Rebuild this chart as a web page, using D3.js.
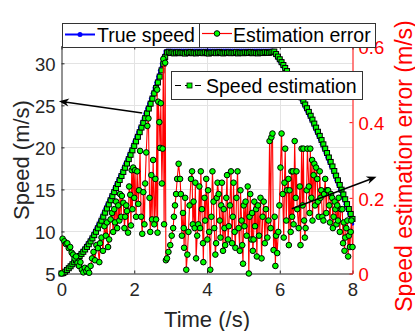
<!DOCTYPE html>
<html>
<head>
<meta charset="utf-8">
<script src="https://cdn.jsdelivr.net/npm/d3@7"></script>
<style>
  body { margin: 0; background: #fff; }
  svg { display: block; font-family: "Liberation Sans", Arial, sans-serif; }
</style>
</head>
<body>
<svg id="chart" width="415" height="331"></svg>
<script>
// sampling of the speed curves (s)
var sampleStep = 0.05;

var trueSpeed = [
  5.00,5.20,5.40,5.62,5.85,6.10,6.35,6.60,6.85,7.10,
  7.35,7.60,7.88,8.18,8.50,8.84,9.20,9.58,9.98,10.40,
  10.84,11.30,11.78,12.26,12.75,13.24,13.73,14.22,14.70,15.18,
  15.66,16.14,16.62,17.10,17.60,18.10,18.62,19.14,19.67,20.20,
  20.74,21.28,21.83,22.38,22.94,23.50,24.07,24.64,25.22,25.82,
  26.44,27.08,27.74,28.44,29.18,29.96,30.80,31.45,31.55,
  31.55,31.55,31.55,31.55,31.55,31.55,31.55,31.55,31.55,31.55,
  31.55,31.55,31.55,31.55,31.55,31.55,31.55,31.55,31.55,31.55,
  31.55,31.55,31.55,31.55,31.55,31.55,31.55,31.55,31.55,31.55,
  31.55,31.55,31.55,31.55,31.55,31.55,31.55,31.55,31.55,31.55,
  31.55,31.55,31.55,31.55,31.55,31.55,31.55,31.55,31.55,31.55,
  31.55,31.55,31.55,31.55,31.55,31.55,31.55,31.55,
  31.20,30.85,30.50,30.15,29.80,29.45,29.08,28.70,28.32,27.94,
  27.55,27.15,26.75,26.35,25.94,25.52,25.10,24.66,24.22,23.76,
  23.30,22.83,22.35,21.86,21.37,20.87,20.36,19.85,19.33,18.80,
  18.27,17.73,17.19,16.64,16.09,15.53,14.97,14.40,13.83,13.25,
  12.67,12.08,11.49,10.90
];

var estSpeed = [
  5.00,5.05,5.22,5.42,5.63,5.86,6.10,6.34,6.58,6.83,
  7.08,7.33,7.58,7.86,8.16,8.48,8.82,9.18,9.56,9.96,
  10.38,10.82,11.28,11.76,12.24,12.73,13.22,13.71,14.20,14.68,
  15.16,15.64,16.12,16.60,17.08,17.58,18.08,18.60,19.12,19.65,
  20.18,20.72,21.26,21.81,22.36,22.92,23.48,24.05,24.62,25.20,
  25.80,26.42,27.06,27.72,28.42,29.16,29.94,30.76,31.28,31.36,
  31.22,31.30,31.18,31.26,31.32,31.20,31.28,31.24,31.16,31.30,
  31.22,31.34,31.20,31.26,31.18,31.30,31.24,31.28,31.20,31.32,
  31.22,31.16,31.28,31.24,31.30,31.20,31.26,31.34,31.22,31.18,
  31.28,31.24,31.30,31.20,31.26,31.22,31.32,31.18,31.28,31.24,
  31.20,31.30,31.26,31.22,31.34,31.20,31.28,31.24,31.18,31.30,
  31.26,31.22,31.32,31.28,31.24,31.30,31.36,
  31.40,31.10,30.80,30.48,30.14,29.80,29.45,29.08,28.70,28.32,
  27.94,27.55,27.15,26.75,26.35,25.94,25.52,25.10,24.66,24.22,
  23.76,23.30,22.83,22.35,21.86,21.37,20.87,20.36,19.85,19.33,
  18.80,18.27,17.73,17.19,16.64,16.09,15.53,14.97,14.40,13.83,
  13.25,12.67,12.08,11.49
];

// [time, error]
var errorPoints = [
  [0.00,0.000],[0.03,0.092],[0.08,0.085],[0.12,0.078],[0.16,0.080],[0.20,0.067],[0.24,0.070],
  [0.28,0.055],[0.32,0.050],[0.36,0.040],[0.40,0.045],[0.44,0.028],[0.48,0.020],[0.52,0.030],
  [0.56,0.010],[0.60,0.003],[0.64,0.015],[0.68,0.006],[0.72,0.012],[0.76,0.002],[0.80,0.020],
  [0.84,0.040],[0.88,0.057],[0.92,0.035],[0.96,0.075],[1.00,0.067],[1.04,0.030],[1.06,0.080],
  [1.10,0.095],[1.14,0.060],[1.18,0.125],[1.22,0.100],[1.25,0.135],[1.28,0.070],[1.31,0.090],
  [1.35,0.143],[1.39,0.160],[1.42,0.110],[1.45,0.170],[1.47,0.135],[1.50,0.190],[1.53,0.120],
  [1.56,0.180],[1.59,0.140],[1.61,0.210],[1.64,0.150],[1.66,0.205],[1.70,0.187],[1.73,0.120],
  [1.75,0.150],[1.78,0.180],[1.80,0.165],[1.83,0.108],[1.86,0.230],[1.89,0.208],[1.91,0.127],
  [1.93,0.273],[1.95,0.170],[1.97,0.280],[2.00,0.200],[2.02,0.273],[2.05,0.150],[2.08,0.270],
  [2.11,0.184],[2.13,0.220],[2.16,0.324],[2.19,0.150],[2.22,0.105],[2.25,0.215],[2.28,0.130],
  [2.30,0.238],[2.33,0.320],[2.36,0.390],[2.39,0.410],[2.42,0.200],[2.44,0.110],[2.47,0.260],
  [2.49,0.143],[2.52,0.300],[2.55,0.130],[2.58,0.250],[2.60,0.143],[2.63,0.486],[2.64,0.108],
  [2.66,0.454],[2.69,0.400],[2.71,0.332],[2.73,0.450],[2.76,0.238],[2.78,0.330],[2.80,0.567],
  [2.82,0.130],[2.85,0.557],[2.87,0.035],[2.90,0.040],[2.94,0.057],[2.99,0.075],[3.03,0.100],
  [3.07,0.120],[3.09,0.150],[3.12,0.180],[3.15,0.210],[3.18,0.250],[3.22,0.290],[3.26,0.250],
  [3.28,0.210],[3.31,0.100],[3.34,0.160],[3.36,0.120],[3.37,0.068],[3.40,0.200],[3.43,0.010],
  [3.46,0.050],[3.49,0.110],[3.52,0.180],[3.56,0.250],[3.59,0.270],[3.61,0.130],[3.63,0.190],
  [3.66,0.120],[3.68,0.240],[3.70,0.040],[3.73,0.100],[3.76,0.130],[3.79,0.230],[3.81,0.120],
  [3.83,0.270],[3.86,0.170],[3.89,0.080],[3.90,0.030],[3.93,0.200],[3.95,0.140],[3.98,0.250],
  [4.01,0.090],[4.03,0.220],[4.06,0.110],[4.09,0.010],[4.12,0.150],[4.15,0.270],[4.18,0.190],
  [4.20,0.120],[4.23,0.050],[4.25,0.080],[4.27,0.200],[4.29,0.240],[4.32,0.210],[4.35,0.140],
  [4.37,0.095],[4.39,0.180],[4.41,0.240],[4.44,0.060],[4.46,0.170],[4.48,0.120],[4.50,0.075],
  [4.53,0.200],[4.55,0.260],[4.58,0.090],[4.60,0.125],[4.63,0.180],[4.66,0.270],[4.69,0.080],
  [4.71,0.150],[4.73,0.240],[4.76,0.110],[4.78,0.068],[4.81,0.200],[4.84,0.270],[4.87,0.120],
  [4.90,0.060],[4.92,0.220],[4.95,0.140],[4.97,0.075],[4.99,0.026],[5.01,0.180],[5.03,0.125],
  [5.06,0.190],[5.09,0.100],[5.12,0.230],[5.15,0.000],[5.17,0.150],[5.19,0.210],[5.22,0.090],
  [5.24,0.160],[5.26,0.060],[5.28,0.090],[5.30,0.190],[5.32,0.125],[5.35,0.170],[5.37,0.045],
  [5.40,0.180],[5.43,0.100],[5.47,0.200],[5.50,0.040],[5.53,0.150],[5.56,0.190],[5.59,0.080],
  [5.62,0.170],[5.66,0.095],[5.69,0.140],[5.72,0.350],[5.75,0.120],[5.77,0.360],[5.80,0.370],
  [5.83,0.062],[5.86,0.150],[5.88,0.020],[5.90,0.100],[5.93,0.054],[5.96,0.110],[5.99,0.180],
  [6.02,0.280],[6.05,0.370],[6.08,0.210],[6.11,0.095],[6.13,0.240],[6.15,0.330],[6.18,0.140],
  [6.20,0.220],[6.24,0.250],[6.25,0.075],[6.27,0.220],[6.30,0.110],[6.32,0.270],[6.34,0.150],
  [6.36,0.270],[6.38,0.130],[6.41,0.350],[6.44,0.200],[6.46,0.270],[6.48,0.170],[6.52,0.120],
  [6.55,0.230],[6.57,0.075],[6.60,0.330],[6.63,0.180],[6.65,0.330],[6.67,0.140],[6.69,0.095],
  [6.71,0.120],[6.74,0.220],[6.76,0.330],[6.80,0.230],[6.82,0.160],[6.84,0.330],[6.87,0.200],
  [6.89,0.300],[6.90,0.140],[6.93,0.260],[6.95,0.290],[6.97,0.180],[7.00,0.280],[7.03,0.250],
  [7.05,0.190],[7.07,0.150],[7.10,0.270],[7.12,0.200],[7.14,0.220],[7.17,0.150],[7.20,0.140],
  [7.22,0.210],[7.25,0.250],[7.28,0.160],[7.30,0.220],[7.33,0.220],[7.36,0.180],[7.38,0.135],
  [7.41,0.210],[7.44,0.200],[7.46,0.120],[7.48,0.150],[7.51,0.190],[7.53,0.170],[7.56,0.130],
  [7.58,0.180],[7.60,0.140],[7.62,0.200],[7.65,0.110],[7.68,0.170],[7.72,0.170],[7.74,0.080],
  [7.76,0.135],[7.78,0.060],[7.80,0.095],[7.83,0.120],[7.86,0.140],[7.88,0.045],[7.90,0.100],
  [7.93,0.070],[7.95,0.110],[7.97,0.140],[8.00,0.070]
];

var xTicks = [0, 2, 4, 6, 8];
var leftTicks = [5, 10, 15, 20, 25, 30];
var rightTicks = [0, 0.2, 0.4, 0.6];

// annotation arrows, in data units (time, speed)
var arrows = [
  { from: [2.22, 24.1], to: [-0.07, 25.5] },
  { from: [6.33, 12.7], to: [8.66, 16.5] }
];

var colorText = "#262626";
var colorGrid = "#e3e3e3";
var colorRed = "#ff0000";
var colorGreen = "#00ff00";

var L = 61.5, R = 352.5, T = 46.5, B = 273.5;

var svg = d3.select("#chart");

var x = d3.scaleLinear().domain([0, 8]).range([L, R]);
var yL = d3.scaleLinear().domain([5, 32]).range([B, T]);
var yR = d3.scaleLinear().domain([0, 0.6]).range([B, T]);

var n = Math.min(trueSpeed.length, estSpeed.length);
var speedRows = d3.range(n).map(function(i){
  return { t: i * sampleStep, v: trueSpeed[i], e: estSpeed[i] };
});

// grid (left axis only)
svg.append("g").selectAll("line").data(xTicks.slice(1, -1)).enter().append("line")
  .attr("x1", function(d){ return Math.round(x(d)) + 0.5; })
  .attr("x2", function(d){ return Math.round(x(d)) + 0.5; })
  .attr("y1", T).attr("y2", B)
  .attr("stroke", colorGrid).attr("stroke-width", 1);
svg.append("g").selectAll("line").data(leftTicks.slice(1)).enter().append("line")
  .attr("x1", L).attr("x2", R)
  .attr("y1", function(d){ return Math.round(yL(d)) + 0.5; })
  .attr("y2", function(d){ return Math.round(yL(d)) + 0.5; })
  .attr("stroke", colorGrid).attr("stroke-width", 1);

// axes
var axB = svg.append("g").attr("transform", "translate(0," + B + ")")
  .call(d3.axisBottom(x).tickValues(xTicks).tickSizeInner(-3).tickSizeOuter(0).tickPadding(9));
var axTop = svg.append("g").attr("transform", "translate(0," + T + ")")
  .call(d3.axisTop(x).tickValues(xTicks).tickSizeInner(-3).tickSizeOuter(0).tickFormat(""));
var axL = svg.append("g").attr("transform", "translate(" + L + ",0)")
  .call(d3.axisLeft(yL).tickValues(leftTicks).tickSizeInner(-3).tickSizeOuter(0).tickPadding(6));
var axR = svg.append("g").attr("transform", "translate(" + R + ",0)")
  .call(d3.axisRight(yR).tickValues(rightTicks).tickFormat(function(d){ return d === 0 ? "0" : d3.format(".1f")(d); })
    .tickSizeInner(-3).tickSizeOuter(0).tickPadding(6));

[axB, axTop, axL].forEach(function(a){
  a.select(".domain").attr("stroke", colorText);
  a.selectAll(".tick line").attr("stroke", colorText);
  a.selectAll("text").attr("fill", colorText).style("font-size", "18.5px")
    .style("font-family", "Liberation Sans, Arial, sans-serif");
});
axR.select(".domain").attr("stroke", colorRed);
axR.selectAll(".tick line").attr("stroke", colorRed);
axR.selectAll("text").attr("fill", colorRed).style("font-size", "18.5px")
  .style("font-family", "Liberation Sans, Arial, sans-serif");
axL.selectAll("text").attr("dy", "0.40em");
axR.selectAll("text").attr("dy", "0.40em");

// speed curves
var lineTrue = d3.line().x(function(d){ return x(d.t); }).y(function(d){ return yL(d.v); });
var lineEst = d3.line().x(function(d){ return x(d.t); }).y(function(d){ return yL(d.e); });

svg.append("path").datum(speedRows).attr("d", lineTrue)
  .attr("fill", "none").attr("stroke", "#0000ff").attr("stroke-width", 2);
svg.append("g").selectAll("circle").data(speedRows).enter().append("circle")
  .attr("cx", function(d){ return x(d.t); }).attr("cy", function(d){ return yL(d.v); })
  .attr("r", 1.8).attr("fill", "#0000ff");

svg.append("path").datum(speedRows).attr("d", lineEst)
  .attr("fill", "none").attr("stroke", "#000").attr("stroke-width", 1).attr("stroke-dasharray", "6,4");
svg.append("g").selectAll("rect").data(speedRows).enter().append("rect")
  .attr("x", function(d){ return x(d.t) - 2.5; }).attr("y", function(d){ return yL(d.e) - 2.5; })
  .attr("width", 5).attr("height", 5)
  .attr("fill", colorGreen).attr("stroke", "#000").attr("stroke-width", 1);

// estimation error (right axis)
var lineErr = d3.line().x(function(d){ return x(d[0]); }).y(function(d){ return yR(d[1]); });
svg.append("path").datum(errorPoints).attr("d", lineErr)
  .attr("fill", "none").attr("stroke", colorRed).attr("stroke-width", 1.1);
svg.append("g").selectAll("circle").data(errorPoints).enter().append("circle")
  .attr("cx", function(d){ return x(d[0]); }).attr("cy", function(d){ return yR(d[1]); })
  .attr("r", 2.8).attr("fill", colorGreen).attr("stroke", "#000").attr("stroke-width", 1);

// box top edge
svg.append("line").attr("x1", L).attr("x2", R).attr("y1", T).attr("y2", T)
  .attr("stroke", colorText).attr("stroke-width", 1);

// axis labels
svg.append("text").attr("x", (L + R) / 2).attr("y", 327).attr("text-anchor", "middle")
  .attr("fill", colorText).style("font-size", "22px").text("Time (/s)");
svg.append("text").attr("transform", "translate(29," + ((T + B) / 2) + ") rotate(-90)")
  .attr("text-anchor", "middle").attr("fill", colorText).style("font-size", "22px").text("Speed (m/s)");
svg.append("text").attr("transform", "translate(412," + ((T + B) / 2 + 6) + ") rotate(-90)")
  .attr("text-anchor", "middle").attr("fill", colorRed).style("font-size", "23px").text("Speed estimation error (m/s)");

// arrows
arrows.forEach(function(a){
  var x1 = x(a.from[0]), y1 = yL(a.from[1]), x2 = x(a.to[0]), y2 = yL(a.to[1]);
  var dx = x2 - x1, dy = y2 - y1, len = Math.sqrt(dx*dx + dy*dy);
  var ux = dx / len, uy = dy / len, nx = -uy, ny = ux;
  var hl = 10, hw = 4;
  svg.append("line").attr("x1", x1).attr("y1", y1)
    .attr("x2", x2 - ux * hl * 0.6).attr("y2", y2 - uy * hl * 0.6)
    .attr("stroke", "#000").attr("stroke-width", 1.6);
  var pts = [
    [x2, y2],
    [x2 - ux*hl + nx*hw, y2 - uy*hl + ny*hw],
    [x2 - ux*hl*0.7, y2 - uy*hl*0.7],
    [x2 - ux*hl - nx*hw, y2 - uy*hl - ny*hw]
  ];
  svg.append("path").attr("d", "M" + pts.map(function(p){ return p.join(","); }).join("L") + "Z")
    .attr("fill", "#000");
});

// legends
function legendBox(x0, y0, w, h){
  svg.append("rect").attr("x", x0 + 0.5).attr("y", y0 + 0.5).attr("width", w).attr("height", h)
    .attr("fill", "#fff").attr("stroke", "#333").attr("stroke-width", 1);
}
legendBox(62, 23, 137, 24);
svg.append("line").attr("x1", 65).attr("x2", 95).attr("y1", 34.5).attr("y2", 34.5)
  .attr("stroke", "#0000ff").attr("stroke-width", 2);
svg.append("circle").attr("cx", 80).attr("cy", 34.5).attr("r", 2.5).attr("fill", "#0000ff");
svg.append("text").attr("x", 97).attr("y", 41.5).attr("fill", "#000")
  .style("font-size", "19.5px").text("True speed");

legendBox(199, 23, 176, 24);
svg.append("line").attr("x1", 202).attr("x2", 232).attr("y1", 33.5).attr("y2", 33.5)
  .attr("stroke", colorRed).attr("stroke-width", 1.2);
svg.append("circle").attr("cx", 217).attr("cy", 33.5).attr("r", 2.8)
  .attr("fill", colorGreen).attr("stroke", "#000").attr("stroke-width", 1);
svg.append("text").attr("x", 233).attr("y", 41.5).attr("fill", "#000")
  .style("font-size", "19.5px").text("Estimation error");

legendBox(171, 71, 191, 28);
svg.append("line").attr("x1", 175).attr("x2", 205).attr("y1", 85.5).attr("y2", 85.5)
  .attr("stroke", "#000").attr("stroke-width", 1).attr("stroke-dasharray", "6,4");
svg.append("rect").attr("x", 187).attr("y", 83).attr("width", 5).attr("height", 5)
  .attr("fill", colorGreen).attr("stroke", "#000").attr("stroke-width", 0.8);
svg.append("text").attr("x", 206).attr("y", 92.5).attr("fill", "#000")
  .style("font-size", "19.5px").text("Speed estimation");
</script>
</body>
</html>
